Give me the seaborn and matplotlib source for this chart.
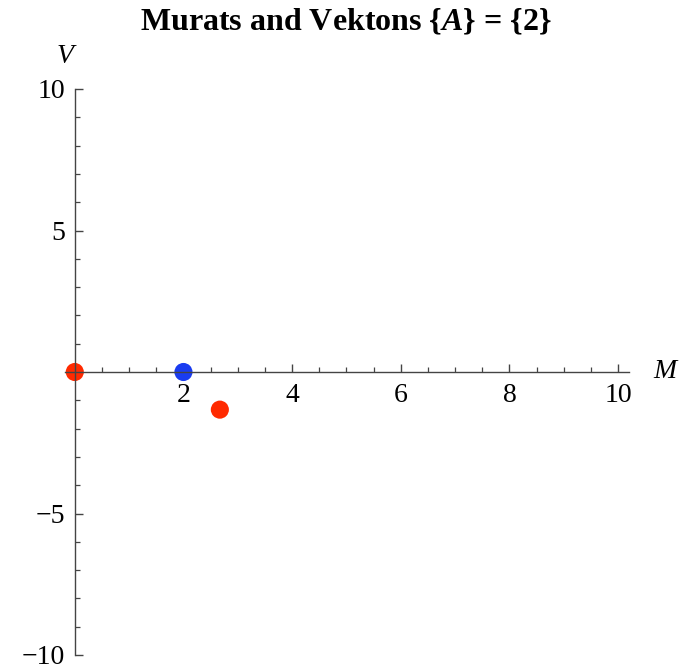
import numpy as np
import pandas as pd
import seaborn as sns
import matplotlib.pyplot as plt
from matplotlib.ticker import MultipleLocator, FixedLocator

# points
murat_m = [0.0, 2.67]
murat_v = [0.0, -1.33]
vekton_m = [2.0]
vekton_v = [0.0]

x_ticks = [2, 4, 6, 8, 10]
y_ticks = [-10, -5, 5, 10]

df = pd.DataFrame({
    "M": murat_m + vekton_m,
    "V": murat_v + vekton_v,
    "kind": ["Murat"] * len(murat_m) + ["Vekton"] * len(vekton_m),
})

sns.set_style("white")
plt.rcParams["font.family"] = ["Liberation Serif", "DejaVu Serif"]
plt.rcParams["mathtext.fontset"] = "custom"
plt.rcParams["mathtext.rm"] = "Liberation Serif"
plt.rcParams["mathtext.it"] = "Liberation Serif:italic:bold"
plt.rcParams["mathtext.bf"] = "Liberation Serif:bold"
plt.rcParams["text.color"] = "black"

fig = plt.figure(figsize=(6.83, 6.66), dpi=100)
ax = fig.add_axes([65 / 683, 1 - 655 / 666, 564 / 683, 566 / 666])

sns.scatterplot(data=df, x="M", y="V", hue="kind",
                palette={"Murat": "#ff2a00", "Vekton": "#1a3cf0"},
                s=170, edgecolor="none", legend=False, ax=ax, zorder=1)

ax.set_xlim(-0.18, 10.2)
ax.set_ylim(-10, 10)

axcol = "#444444"
for side in ["top", "right"]:
    ax.spines[side].set_visible(False)
ax.spines["left"].set_position(("data", 0))
ax.spines["bottom"].set_position(("data", 0))
ax.spines["left"].set_bounds(-10, 10)
for side in ["left", "bottom"]:
    ax.spines[side].set_color(axcol)
    ax.spines[side].set_linewidth(1.0)
    ax.spines[side].set_zorder(3)

ax.xaxis.set_major_locator(FixedLocator(x_ticks))
ax.xaxis.set_minor_locator(MultipleLocator(0.5))
ax.yaxis.set_major_locator(FixedLocator(y_ticks))
ax.yaxis.set_minor_locator(MultipleLocator(1))
ax.set_xticklabels([str(t) for t in x_ticks])
ax.set_yticklabels([str(t).replace("-", "\u2212") for t in y_ticks])
ax.tick_params(which="both", bottom=True, left=True, top=False, right=False)
ax.tick_params(which="major", direction="in", length=6, width=1.0,
               color=axcol, labelcolor="black", labelsize=20, pad=7)
ax.tick_params(which="minor", direction="in", length=3.5, width=0.9,
               color=axcol)
ax.tick_params(axis="x", which="major", pad=8)
ax.set_xlabel("")
ax.set_ylabel("")
ax.grid(False)

ax.text(0.0, 1.057, "V", transform=ax.transAxes, fontsize=20,
        style="italic", ha="center", va="center", color="black")
ax.text(1.064, 0.5, "M", transform=ax.transAxes, fontsize=20,
        style="italic", ha="center", va="center", color="black")
fig.text(346 / 683, 1 - 22 / 666,
         r"Murats and Vektons {$\mathit{A}$} = {2}",
         fontsize=23, fontweight="bold", ha="center", va="center",
         color="black")

fig.savefig("out.png", dpi=100)
